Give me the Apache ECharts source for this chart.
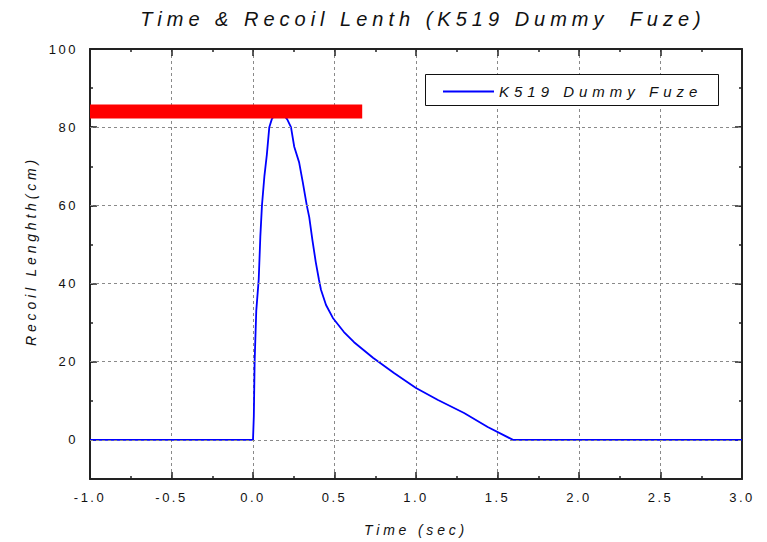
<!DOCTYPE html>
<html>
<head>
<meta charset="utf-8">
<script src="https://cdn.jsdelivr.net/npm/echarts@6/dist/echarts.min.js"></script>
<style>
  html, body {margin: 0; padding: 0; background: #fff;}
  #chart {width: 767px; height: 542px;}
  /* the original uses very wide letter spacing; pick it up by font size */
  #chart text[style*="20px"] {letter-spacing: 5px;}
  #chart text[style*="15px"] {letter-spacing: 5px;}
  #chart text[style*="14px"] {letter-spacing: 3.8px;}
  #chart text[style*="13px"] {letter-spacing: 2.5px;}
</style>
</head>
<body>
<div id="chart"></div>
<script>
// recoil curve
const timeSec = [-1, 0, 0.005, 0.01, 0.02, 0.035, 0.045, 0.055, 0.07, 0.085, 0.1, 0.115, 0.155, 0.2, 0.21, 0.233, 0.253, 0.283, 0.305, 0.33, 0.345, 0.365, 0.385, 0.405, 0.417, 0.448, 0.49, 0.558, 0.62, 0.736, 0.865, 1.0, 1.135, 1.295, 1.44, 1.595, 3.0];
const recoilCm = [0, 0, 6, 20, 33, 41, 52, 60, 67.5, 73, 80, 82, 84.5, 82.5, 82, 80, 75, 71, 66, 60, 57, 51, 45.5, 40.9, 38.4, 34.5, 31.2, 27.6, 25, 21, 17.1, 13.3, 10.2, 6.9, 3.3, 0, 0];

// red limit bar
const redBarTime = [-1, 0.67];
const redBarLen = [84, 84];

const yMajorTicks = [0, 20, 40, 60, 80, 100];
const yGridLines = [0, 20, 40, 60, 80];

const seriesName = "K519 Dummy Fuze";

const chart = echarts.init(document.getElementById("chart"), null, {renderer: "svg"});

const axisLine = {show: true, onZero: false, lineStyle: {color: "#222", width: 2}};
const gridStyle = {color: "#8a8a8a", width: 1, type: [3, 3]};

const baseX = {
  type: "value", min: -1, max: 3, interval: 0.5,
  axisLine: axisLine,
  axisTick: {show: true, inside: true, length: 7, lineStyle: {color: "#222", width: 1.5}},
  minorTick: {show: true, splitNumber: 2, length: 3, lineStyle: {color: "#222", width: 1.5}},
  splitLine: {show: false},
  axisLabel: {show: false},
};

const baseY = {
  type: "value", min: -10, max: 100, interval: 10,
  axisLine: axisLine,
  axisTick: {show: true, inside: true, length: 3, lineStyle: {color: "#222", width: 1.5}},
  splitLine: {show: false},
  axisLabel: {show: false},
};

const majorY = {
  type: "value", min: -10, max: 100, interval: 10,
  axisLine: {show: false, onZero: false},
  axisTick: {show: true, inside: true, length: 7, customValues: yMajorTicks, lineStyle: {color: "#222", width: 1.5}},
  splitLine: {show: false},
  axisLabel: {show: false},
};

const option = {
  backgroundColor: "#fff",
  animation: false,
  title: {
    text: "Time & Recoil Lenth (K519 Dummy  Fuze)",
    left: 418, top: 4, textAlign: "center",
    textStyle: {fontFamily: "Liberation Sans", fontStyle: "italic", fontWeight: "normal", fontSize: 20, color: "#111"},
  },
  grid: {left: 90, right: 25, top: 49, bottom: 62},
  graphic: [{
    type: "rect", left: 425, top: 74, z: 10,
    shape: {width: 293, height: 31},
    style: {fill: "#fff", stroke: "#111", lineWidth: 1},
  }],
  legend: {
    data: [seriesName], left: 443, top: 84, padding: 0, z: 11,
    icon: "rect", itemWidth: 51, itemHeight: 2,
    textStyle: {fontFamily: "Liberation Sans", fontStyle: "italic", fontSize: 15, color: "#111"},
  },
  xAxis: [
    Object.assign({}, baseX, {
      position: "bottom",
      splitLine: {show: true, lineStyle: gridStyle},
      axisLabel: {show: true, margin: 12, fontFamily: "Liberation Sans", fontSize: 13, color: "#111",
        formatter: (v) => v.toFixed(1)},
      name: "Time (sec)", nameLocation: "middle", nameGap: 44,
      nameTextStyle: {fontFamily: "Liberation Sans", fontStyle: "italic", fontSize: 14, color: "#111"},
    }),
    Object.assign({}, baseX, {position: "top"}),
  ],
  yAxis: [
    Object.assign({}, baseY, {
      position: "left",
      axisLabel: {show: true, margin: 12, fontFamily: "Liberation Sans", fontSize: 13, color: "#111",
        formatter: (v) => (yMajorTicks.indexOf(v) >= 0 ? String(v) : "")},
      name: "Recoil Lenghth(cm)", nameLocation: "middle", nameGap: 52,
      nameTextStyle: {fontFamily: "Liberation Sans", fontStyle: "italic", fontSize: 14, color: "#111",
        padding: [0, 0, 0, 26]},
    }),
    Object.assign({}, majorY, {position: "left"}),
    Object.assign({}, baseY, {position: "right"}),
    Object.assign({}, majorY, {position: "right"}),
  ],
  series: [
    {
      // horizontal grid lines
      type: "line", data: [], z: 1, silent: true,
      markLine: {
        silent: true, symbol: "none", label: {show: false},
        lineStyle: gridStyle,
        data: yGridLines.map((v) => ({yAxis: v})),
      },
    },
    {
      name: seriesName, type: "line", z: 3,
      data: timeSec.map((t, i) => [t, recoilCm[i]]),
      symbol: "none", lineStyle: {color: "#0000ff", width: 1.8}, itemStyle: {color: "#0000ff"},
    },
    {
      type: "line", z: 4, clip: true,
      data: redBarTime.map((t, i) => [t, redBarLen[i]]),
      symbol: "none", lineStyle: {color: "#ff0000", width: 14, cap: "butt"},
    },
  ],
};

chart.setOption(option);
</script>
</body>
</html>
